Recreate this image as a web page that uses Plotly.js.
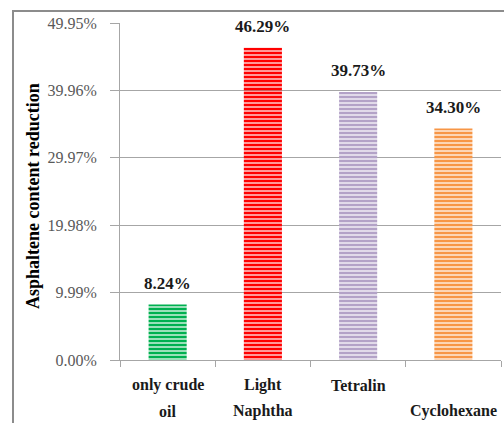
<!DOCTYPE html>
<html>
<head>
<meta charset="utf-8">
<script src="https://cdn.plot.ly/plotly-3.0.1.min.js"></script>
<style>html,body{margin:0;padding:0;background:#fff;}#chart{width:504px;height:423px;}</style>
</head>
<body>
<div id="chart"></div>
<script>
var categories = ["only crude oil", "Light Naphtha", "Tetralin", "Cyclohexane"];
var labelLine1 = ["only crude", "Light", "Tetralin", ""];
var labelLine2 = ["oil", "Naphtha", "", "Cyclohexane"];
var values = [8.24, 46.29, 39.73, 34.30];
var valueLabels = ["8.24%", "46.29%", "39.73%", "34.30%"];
var barColors = ["#00b050", "#ff0000", "#b3a2c7", "#f79646"];
var yTickVals = [0, 9.99, 19.98, 29.97, 39.96, 49.95];
var yTickText = ["0.00%", "9.99%", "19.98%", "29.97%", "39.96%", "49.95%"];

var serif = "'Liberation Serif', 'Times New Roman', serif";

var trace = {
  type: "bar",
  x: categories,
  y: values,
  width: 0.4,
  marker: {
    color: barColors,
    line: {width: 0},
    pattern: {shape: "-", fgcolor: barColors, bgcolor: "#ffffff", fillmode: "replace", size: 4, solidity: 0.7}
  },
  hoverinfo: "none"
};

var annotations = [];
for (var i = 0; i < categories.length; i++) {
  annotations.push({
    x: categories[i], y: values[i], xref: "x", yref: "y",
    text: "<b>" + valueLabels[i] + "</b>", showarrow: false,
    yanchor: "middle", yshift: 21,
    font: {family: serif, size: 17, color: "#1a1a1a"}
  });
  if (labelLine1[i]) annotations.push({
    x: categories[i], y: -25/337, xref: "x", yref: "paper",
    text: "<b>" + labelLine1[i] + "</b>", showarrow: false, yanchor: "middle",
    font: {family: serif, size: 16, color: "#1a1a1a"}
  });
  if (labelLine2[i]) annotations.push({
    x: categories[i], y: -51/337, xref: "x", yref: "paper",
    text: "<b>" + labelLine2[i] + "</b>", showarrow: false, yanchor: "middle",
    font: {family: serif, size: 16, color: "#1a1a1a"}
  });
}
annotations.push({
  x: (33 - 120) / 381, y: (360 - 196) / 337, xref: "paper", yref: "paper",
  text: "<b>Asphaltene content reduction</b>", showarrow: false, textangle: -90,
  xanchor: "center", yanchor: "middle",
  font: {family: serif, size: 18, color: "#000000"}
});

var layout = {
  width: 504, height: 423,
  margin: {l: 120, r: 3, t: 23, b: 63},
  paper_bgcolor: "#ffffff", plot_bgcolor: "#ffffff",
  showlegend: false,
  xaxis: {
    type: "category",
    showticklabels: false,
    showline: true, linecolor: "#a6a6a6", linewidth: 1,
    ticks: "outside", tickson: "boundaries", ticklen: 6, tickcolor: "#a6a6a6",
    showgrid: false, zeroline: false,
    range: [-0.5, 3.5]
  },
  yaxis: {
    range: [0, 49.95],
    tickvals: yTickVals, ticktext: yTickText,
    tickfont: {family: serif, size: 16, color: "#595959"},
    ticks: "outside", ticklen: 9, tickcolor: "#a6a6a6",
    ticklabelstandoff: 10,
    showline: true, linecolor: "#a6a6a6", linewidth: 1,
    showgrid: true, gridcolor: "#a6a6a6", gridwidth: 1,
    zeroline: false
  },
  shapes: [{
    type: "rect", xref: "paper", yref: "paper",
    x0: (13 - 120) / 381, x1: (520 - 120) / 381,
    y0: (360 - 440) / 337, y1: (360 - 11) / 337,
    line: {color: "#8c8c8c", width: 2}, fillcolor: "rgba(0,0,0,0)"
  }],
  annotations: annotations
};

Plotly.newPlot("chart", [trace], layout, {displayModeBar: false, staticPlot: true});
</script>
</body>
</html>
